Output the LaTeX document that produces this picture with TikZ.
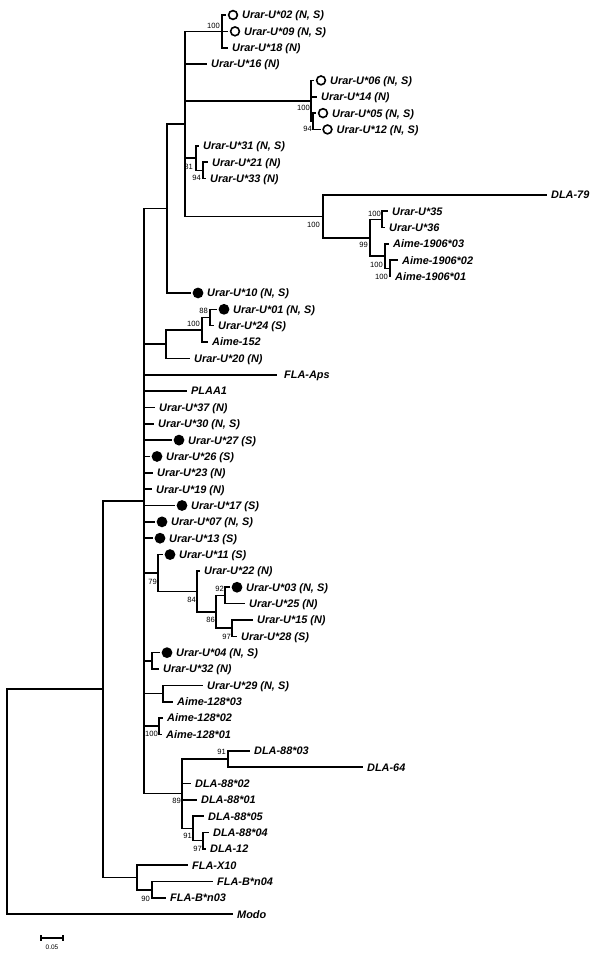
\documentclass[tikz,border=0pt]{standalone}
\usepackage{fontspec}
\setmainfont{Liberation Sans}
\newcommand{\tnode}[3]{\coordinate (#1) at (#2,{15+16.35*(#3)});}
\newcommand{\tleaf}[5]{%
  \coordinate (#1) at (#3,{15+16.35*(#4)});
  \draw[br] (#2) |- (#1);
  \node[lab] (#1t) at ([xshift=4pt]#1) {#5};}
\newcommand{\tcleaf}[6]{%
  \coordinate (#1) at ({#3-7},{15+16.35*(#4)});
  \draw[br] (#2) |- (#1);
  \node[#5] (#1c) at (#3,{15+16.35*(#4)}) {};
  \node[lab] (#1t) at ([xshift=9pt]#1c.center) {#6};}
\newcommand{\tboot}[4]{\node[bs] (#1) at (#2,#3) {#4};}
\begin{document}
\begin{tikzpicture}[x=1pt,y=-1pt,
  br/.style={line width=1.6pt},
  lab/.style={anchor=base west,inner sep=0pt,font=\fontsize{10.9}{12}\selectfont\bfseries\itshape,yshift=-3.9pt},
  bs/.style={anchor=base east,inner sep=0pt,font=\fontsize{7.6}{8}\selectfont,yshift=-2.7pt},
  oc/.style={circle,draw,line width=1.6pt,minimum size=8.8pt,inner sep=0pt},
  fc/.style={circle,fill,minimum size=10.8pt,inner sep=0pt}]
\useasboundingbox (0,0) rectangle (600,953);
% internal nodes
\tnode{R0}{7}{48.119}
\tnode{D}{103}{41.238}
\tnode{C}{144}{29.727}
\tnode{B}{167}{11.828}
\tnode{A}{185}{6.656}
\tnode{A1}{222}{1}
\tnode{J}{311}{5.25}
\tnode{K}{313}{6.5}
\tnode{L}{196}{8.75}
\tnode{M}{203}{9.5}
\tnode{F}{323}{12.3125}
\tnode{G}{370}{13.625}
\tnode{N}{382}{12.5}
\tnode{H}{385}{14.75}
\tnode{I}{390}{15.5}
\tnode{O}{166}{20.125}
\tnode{P}{202}{19.25}
\tnode{Q}{210}{18.5}
\tnode{R}{158}{34.125}
\tnode{S}{197}{35.25}
\tnode{T}{216}{36.5}
\tnode{U}{225}{35.5}
\tnode{V}{232}{37.5}
\tnode{W}{152}{39.5}
\tnode{X}{163}{41.5}
\tnode{Y}{159}{43.5}
\tnode{Z}{182}{47.625}
\tnode{AA}{228}{45.5}
\tnode{AB}{193}{49.75}
\tnode{AC}{203}{50.5}
\tnode{AD}{137}{52.75}
\tnode{AE}{152}{53.5}
% internal edges
\foreach \p/\c in {R0/D,D/C,D/AD,C/B,B/A,A/A1,A/J,J/K,A/L,L/M,A/F,F/G,G/N,G/H,H/I,C/O,O/P,P/Q,C/R,R/S,S/T,T/U,T/V,C/W,C/X,C/Y,C/Z,Z/AA,Z/AB,AB/AC,AD/AE}
  \draw[br] (\p) |- (\c);
% leaves
\tcleaf{l0}{A1}{233}{0}{oc}{Urar-U*02 (N, S)}
\tcleaf{l1}{A1}{235}{1}{oc}{Urar-U*09 (N, S)}
\tleaf{l2}{A1}{228}{2}{Urar-U*18 (N)}
\tleaf{l3}{A}{207}{3}{Urar-U*16 (N)}
\tcleaf{l4}{J}{321}{4}{oc}{Urar-U*06 (N, S)}
\tleaf{l5}{J}{317}{5}{Urar-U*14 (N)}
\tcleaf{l6}{K}{323}{6}{oc}{Urar-U*05 (N, S)}
\tcleaf{l7}{K}{327.5}{7}{oc}{Urar-U*12 (N, S)}
\tleaf{l8}{L}{199}{8}{Urar-U*31 (N, S)}
\tleaf{l9}{M}{208}{9}{Urar-U*21 (N)}
\tleaf{l10}{M}{206}{10}{Urar-U*33 (N)}
\tleaf{l11}{F}{547}{11}{DLA-79}
\tleaf{l12}{N}{388}{12}{Urar-U*35}
\tleaf{l13}{N}{385}{13}{Urar-U*36}
\tleaf{l14}{H}{389}{14}{Aime-1906*03}
\tleaf{l15}{I}{398}{15}{Aime-1906*02}
\tleaf{l16}{I}{391}{16}{Aime-1906*01}
\tcleaf{l17}{B}{198}{17}{fc}{Urar-U*10 (N, S)}
\tcleaf{l18}{Q}{224}{18}{fc}{Urar-U*01 (N, S)}
\tleaf{l19}{Q}{214}{19}{Urar-U*24 (S)}
\tleaf{l20}{P}{208}{20}{Aime-152}
\tleaf{l21}{O}{190}{21}{Urar-U*20 (N)}
\tleaf{l22}{C}{277}{22}{\hspace{3pt}FLA-Aps}
\tleaf{l23}{C}{187}{23}{PLAA1}
\tleaf{l24}{C}{155}{24}{Urar-U*37 (N)}
\tleaf{l25}{C}{154}{25}{Urar-U*30 (N, S)}
\tcleaf{l26}{C}{179}{26}{fc}{Urar-U*27 (S)}
\tcleaf{l27}{C}{157}{27}{fc}{Urar-U*26 (S)}
\tleaf{l28}{C}{153}{28}{Urar-U*23 (N)}
\tleaf{l29}{C}{152}{29}{Urar-U*19 (N)}
\tcleaf{l30}{C}{182}{30}{fc}{Urar-U*17 (S)}
\tcleaf{l31}{C}{162}{31}{fc}{Urar-U*07 (N, S)}
\tcleaf{l32}{C}{160}{32}{fc}{Urar-U*13 (S)}
\tcleaf{l33}{R}{170}{33}{fc}{Urar-U*11 (S)}
\tleaf{l34}{S}{200}{34}{Urar-U*22 (N)}
\tcleaf{l35}{U}{237}{35}{fc}{Urar-U*03 (N, S)}
\tleaf{l36}{U}{245}{36}{Urar-U*25 (N)}
\tleaf{l37}{V}{253}{37}{Urar-U*15 (N)}
\tleaf{l38}{V}{237}{38}{Urar-U*28 (S)}
\tcleaf{l39}{W}{167}{39}{fc}{Urar-U*04 (N, S)}
\tleaf{l40}{W}{159}{40}{Urar-U*32 (N)}
\tleaf{l41}{X}{203}{41}{Urar-U*29 (N, S)}
\tleaf{l42}{X}{173}{42}{Aime-128*03}
\tleaf{l43}{Y}{163}{43}{Aime-128*02}
\tleaf{l44}{Y}{162}{44}{Aime-128*01}
\tleaf{l45}{AA}{250}{45}{DLA-88*03}
\tleaf{l46}{AA}{363}{46}{DLA-64}
\tleaf{l47}{Z}{191}{47}{DLA-88*02}
\tleaf{l48}{Z}{197}{48}{DLA-88*01}
\tleaf{l49}{AB}{204}{49}{DLA-88*05}
\tleaf{l50}{AC}{209}{50}{DLA-88*04}
\tleaf{l51}{AC}{206}{51}{DLA-12}
\tleaf{l52}{AD}{188}{52}{FLA-X10}
\tleaf{l53}{AE}{213}{53}{FLA-B*n04}
\tleaf{l54}{AE}{166}{54}{FLA-B*n03}
\tleaf{l55}{R0}{233}{55}{Modo}
% bootstrap values
\tboot{b1}{220}{26}{100}
\tboot{b2}{310}{108}{100}
\tboot{b3}{312}{129}{94}
\tboot{b4}{193}{167}{81}
\tboot{b5}{201}{178}{94}
\tboot{b6}{320}{225}{100}
\tboot{b7}{381}{214}{100}
\tboot{b8}{368}{245}{99}
\tboot{b9}{383}{265}{100}
\tboot{b10}{388}{277}{100}
\tboot{b11}{208}{311}{88}
\tboot{b12}{200}{324}{100}
\tboot{b13}{157}{582}{79}
\tboot{b14}{196}{600}{84}
\tboot{b15}{215}{620}{86}
\tboot{b16}{224}{589}{92}
\tboot{b17}{231}{637}{97}
\tboot{b18}{158}{734}{100}
\tboot{b19}{181}{801}{89}
\tboot{b20}{226}{752}{91}
\tboot{b21}{192}{836}{91}
\tboot{b22}{202}{849}{97}
\tboot{b23}{150}{899}{90}
% scale bar
\coordinate (s1) at (41,938);
\coordinate (s2) at (63,938);
\draw[line width=1.3pt] (s1) -- (s2);
\draw[line width=1.3pt] ([yshift=3pt]s1) -- ([yshift=-3pt]s1);
\draw[line width=1.3pt] ([yshift=3pt]s2) -- ([yshift=-3pt]s2);
\node[inner sep=0pt,font=\fontsize{6.5}{7}\selectfont] (sl) at (52,947) {0.05};
\end{tikzpicture}
\end{document}
